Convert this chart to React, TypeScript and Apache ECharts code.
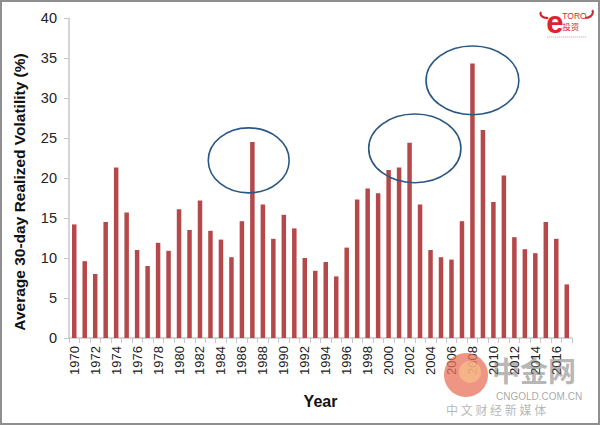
import React, { useEffect, useRef } from "react";
import * as echarts from "echarts";

const years: string[] = [
  "1970","1971","1972","1973","1974","1975","1976","1977","1978","1979",
  "1980","1981","1982","1983","1984","1985","1986","1987","1988","1989",
  "1990","1991","1992","1993","1994","1995","1996","1997","1998","1999",
  "2000","2001","2002","2003","2004","2005","2006","2007","2008","2009",
  "2010","2011","2012","2013","2014","2015","2016","2017",
];

const volatility: number[] = [
  14.2, 9.6, 8.0, 14.5, 21.3, 15.7, 11.0, 9.0, 11.9, 10.9,
  16.1, 13.5, 17.2, 13.4, 12.3, 10.1, 14.6, 24.5, 16.7, 12.4,
  15.4, 13.7, 10.0, 8.4, 9.5, 7.7, 11.3, 17.3, 18.7, 18.1,
  21.0, 21.3, 24.4, 16.7, 11.0, 10.1, 9.8, 14.6, 34.3, 26.0,
  17.0, 20.3, 12.6, 11.1, 10.6, 14.5, 12.4, 6.7,
];

// annotation ellipses: center (category index, value), radii (categories, value units)
const ellipseCenterIdx: number[] = [16.65, 32.5, 38.0];
const ellipseCenterVal: number[] = [22.2, 23.7, 32.2];
const ellipseRadiusCat: number[] = [3.86, 4.4, 4.43];
const ellipseRadiusVal: number[] = [4.06, 4.3, 4.3];

const yTicks = { min: 0, max: 40, interval: 5 };

export default function App() {
  const ref = useRef<HTMLDivElement>(null);
  useEffect(() => {
    if (!ref.current) return;
    const chart = echarts.init(ref.current, null, { renderer: "svg" });
    const font = "'Liberation Sans', Arial, sans-serif";
    const cjk = "'Noto Sans CJK SC', sans-serif";
    chart.setOption({
      animation: false,
      backgroundColor: "#ffffff",
      grid: { left: 69, right: 28, top: 18, bottom: 87, containLabel: false },
      xAxis: {
        type: "category",
        data: years,
        name: "Year",
        nameLocation: "middle",
        nameGap: 55,
        nameTextStyle: { fontFamily: font, fontSize: 16, fontWeight: "bold", color: "#111" },
        axisLine: { show: true, lineStyle: { color: "#c8c8c8", width: 1.5 } },
        axisTick: { show: true, length: 5, interval: 0, lineStyle: { color: "#c8c8c8" } },
        axisLabel: {
          rotate: 90,
          interval: 1,
          margin: 8,
          fontFamily: font,
          fontSize: 13,
          color: "#222",
        },
        splitLine: { show: false },
      },
      yAxis: {
        type: "value",
        min: yTicks.min,
        max: yTicks.max,
        interval: yTicks.interval,
        name: "Average 30-day Realized Volatility (%)",
        nameLocation: "middle",
        nameGap: 42,
        nameTextStyle: {
          fontFamily: font,
          fontSize: 15.5,
          fontWeight: "bold",
          color: "#111",
          padding: [0, 28, 0, 0],
        },
        axisLine: { show: true, lineStyle: { color: "#c8c8c8", width: 1.5 } },
        axisTick: { show: true, length: 5, lineStyle: { color: "#c8c8c8" } },
        axisLabel: { margin: 12, fontFamily: font, fontSize: 14.5, color: "#222" },
        splitLine: { show: false },
      },
      series: [
        {
          type: "bar",
          data: volatility,
          barWidth: 4.5,
          itemStyle: { color: "#B5484A" },
        },
      ],
    });

    const px = (i: number, v: number): number[] => {
      const i0 = Math.floor(i);
      const f = i - i0;
      const a = chart.convertToPixel({ gridIndex: 0 }, [i0, v]) as number[];
      const b = chart.convertToPixel({ gridIndex: 0 }, [i0 + 1, v]) as number[];
      return [a[0] + (b[0] - a[0]) * f, a[1]];
    };
    const p0 = chart.convertToPixel({ gridIndex: 0 }, [0, 0]) as number[];
    const p1 = chart.convertToPixel({ gridIndex: 0 }, [1, 1]) as number[];
    const catW = p1[0] - p0[0];
    const unitH = p0[1] - p1[1];

    const ellipses = ellipseCenterIdx.map((ci, k) => {
      const c = px(ci, ellipseCenterVal[k]);
      return {
        type: "ellipse",
        shape: { cx: c[0], cy: c[1], rx: ellipseRadiusCat[k] * catW, ry: ellipseRadiusVal[k] * unitH },
        style: { fill: "none", stroke: "#2B5783", lineWidth: 1.6 },
        z: 10,
      };
    });

    chart.setOption({
      graphic: [
        ...ellipses,
        // frame
        {
          type: "rect",
          shape: { x: 1, y: 1, width: 598, height: 423 },
          style: { fill: "none", stroke: "#8f8f8f", lineWidth: 2 },
          z: 20,
        },
        // eToro logo (top right)
        {
          type: "group",
          left: 538,
          top: 7,
          children: [
            { type: "bezierCurve", shape: { x1: 9, y1: 14, x2: 2, y2: 8, cpx1: 2, cpy1: 14, cpx2: 0, cpy2: 10 }, style: { stroke: "#D9262E", lineWidth: 2, fill: "none" } },
            { type: "bezierCurve", shape: { x1: 46, y1: 14, x2: 53, y2: 6, cpx1: 52, cpy1: 14, cpx2: 55, cpy2: 9 }, style: { stroke: "#D9262E", lineWidth: 2, fill: "none" } },
            { type: "text", x: 7, y: 3, style: { text: "e", fontSize: 31, lineHeight: 31, fontWeight: "bold", fill: "#D9262E", fontFamily: font } },
            { type: "text", x: 23, y: 7, style: { text: "TORO", fontSize: 8.5, lineHeight: 9, fill: "#D9262E", fontFamily: font } },
            { type: "text", x: 23, y: 17, style: { text: "投资", fontSize: 8.5, lineHeight: 9, fill: "#D9262E", fontFamily: cjk } },
            { type: "line", shape: { x1: 8, y1: 33, x2: 48, y2: 33 }, style: { stroke: "#E88", lineWidth: 1, lineDash: [1, 1] } },
          ],
        },
        // cngold watermark (bottom right)
        {
          type: "circle",
          shape: { cx: 466, cy: 375, r: 22 },
          style: { fill: "#E8735A", opacity: 0.75 },
          z: 15,
        },
        {
          type: "circle",
          shape: { cx: 470, cy: 372, r: 11 },
          style: { fill: "#F6C08A", opacity: 0.7 },
          z: 15,
        },
        {
          type: "text",
          x: 492,
          y: 356,
          z: 15,
          style: { text: "中金网", fontSize: 28, lineHeight: 28, fontWeight: "bold", fill: "rgba(120,120,120,0.55)", fontFamily: cjk },
        },
        {
          type: "text",
          x: 496,
          y: 391,
          z: 15,
          style: { text: "CNGOLD.COM.CN", fontSize: 10, lineHeight: 10, fill: "rgba(130,130,130,0.7)", fontFamily: font },
        },
        {
          type: "text",
          x: 446,
          y: 403,
          z: 15,
          style: { text: "中 文 财 经 新 媒 体", fontSize: 12, lineHeight: 13, fill: "rgba(150,150,150,0.7)", fontFamily: cjk },
        },
      ],
    });

    return () => chart.dispose();
  }, []);

  return (
    <div
      ref={ref}
      style={{ position: "absolute", left: 0, top: 0, width: 600, height: 425 }}
    />
  );
}
